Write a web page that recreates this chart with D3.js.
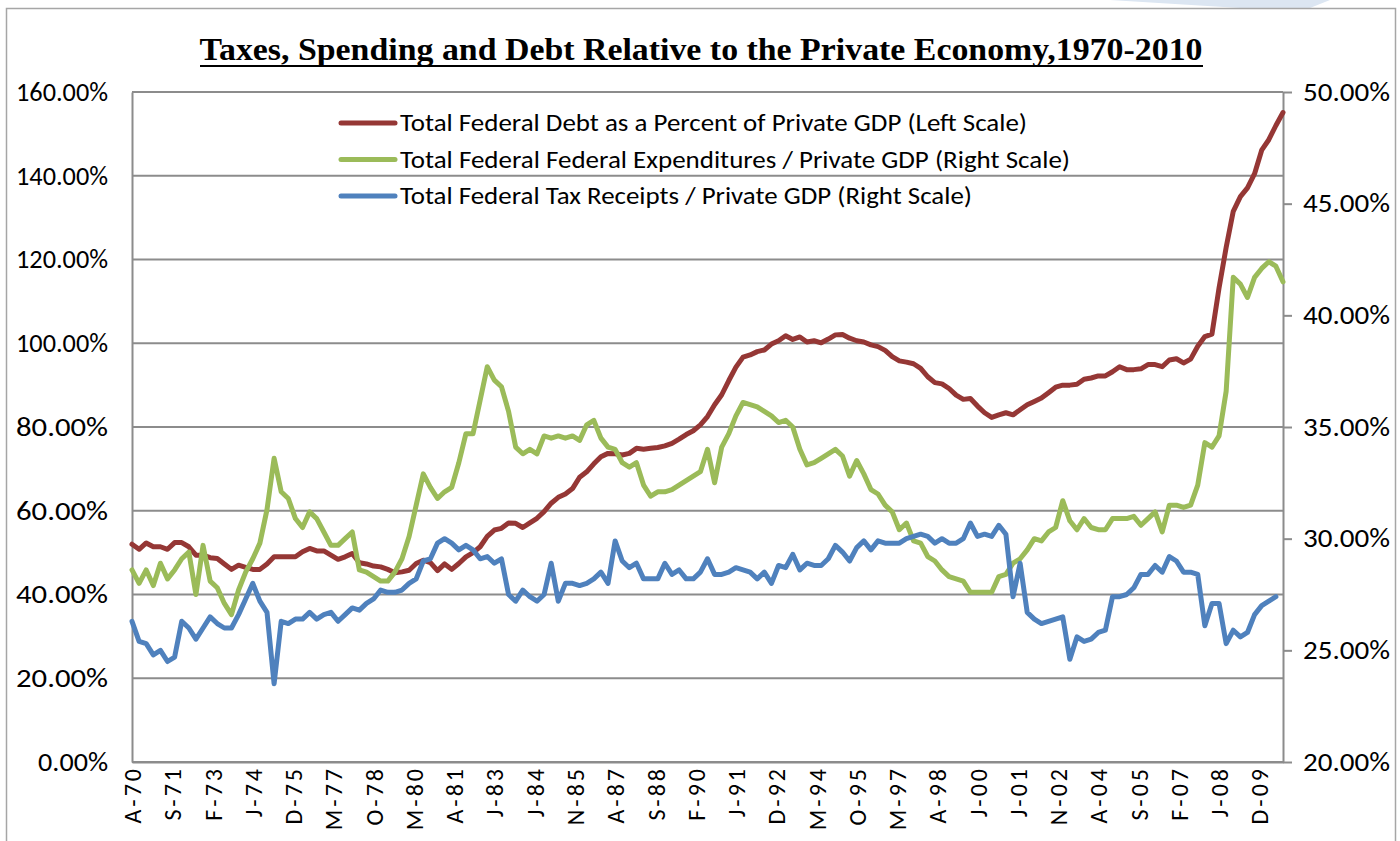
<!DOCTYPE html>
<html>
<head>
<meta charset="utf-8">
<script src="https://cdn.jsdelivr.net/npm/d3@7"></script>
<style>
  html, body { margin: 0; padding: 0; background: #fff; }
  svg { display: block; }
  text { font-family: Carlito, Calibri, Lato, sans-serif; fill: #000; }
</style>
</head>
<body>
<div id="chart"></div>
<script>
// Axis labels (every 17th month starting Apr 1970)
const tickLabels = ['A-70', 'S-71', 'F-73', 'J-74', 'D-75', 'M-77', 'O-78', 'M-80', 'A-81', 'J-83',
	'J-84', 'N-85', 'A-87', 'S-88', 'F-90', 'J-91', 'D-92', 'M-94', 'O-95', 'M-97',
	'A-98', 'J-00', 'J-01', 'N-02', 'A-04', 'S-05', 'F-07', 'J-08', 'D-09'];

// Quarterly values, starting Apr 1970
// Total federal debt as % of private GDP (left scale)
const debtPct = [
	52.0, 50.8, 52.3, 51.4, 51.4, 50.8, 52.4, 52.4, 51.4, 49.4,
	49.4, 48.8, 48.6, 47.3, 46.0, 47.0, 46.5, 46.0, 46.0, 47.3,
	49.0, 49.0, 49.0, 49.0, 50.2, 51.0, 50.4, 50.4, 49.4, 48.4,
	49.0, 49.8, 47.6, 47.3, 46.8, 46.6, 46.0, 45.2, 45.4, 45.8,
	47.4, 48.2, 47.6, 45.7, 47.3, 46.0, 47.4, 49.0, 50.0, 51.4,
	53.9, 55.4, 55.8, 57.1, 57.0, 56.0, 57.1, 58.2, 59.8, 61.8,
	63.2, 64.0, 65.3, 68.0, 69.3, 71.2, 72.9, 73.7, 73.6, 73.3,
	73.7, 74.9, 74.7, 74.9, 75.1, 75.5, 76.1, 77.1, 78.2, 79.1,
	80.5, 82.5, 85.3, 87.7, 91.1, 94.3, 96.7, 97.2, 98.0, 98.4,
	99.8, 100.6, 101.8, 100.9, 101.5, 100.3, 100.6, 100.1, 101.0, 102.0,
	102.1, 101.2, 100.6, 100.3, 99.6, 99.2, 98.3, 96.8, 95.8, 95.5,
	95.1, 94.0, 92.0, 90.6, 90.3, 89.2, 87.6, 86.6, 86.8, 85.0,
	83.4, 82.3, 82.9, 83.4, 82.9, 84.1, 85.3, 86.1, 86.9, 88.2,
	89.5, 90.0, 90.0, 90.2, 91.4, 91.7, 92.2, 92.2, 93.2, 94.4,
	93.7, 93.7, 93.9, 94.9, 94.9, 94.4, 96.0, 96.3, 95.3, 96.2,
	99.3, 101.6, 102.2, 113.2, 122.9, 131.5, 135.0, 137.1, 140.5, 146.1,
	148.6, 152.0, 155.1
];

// Total federal expenditures / private GDP (right scale)
const expendPct = [
	28.6, 28.0, 28.6, 27.9, 28.9, 28.2, 28.6, 29.1, 29.4, 27.5,
	29.7, 28.1, 27.8, 27.1, 26.6, 27.7, 28.5, 29.1, 29.8, 31.3,
	33.6, 32.1, 31.8, 30.9, 30.5, 31.2, 30.9, 30.3, 29.7, 29.7,
	30.0, 30.3, 28.6, 28.5, 28.3, 28.1, 28.1, 28.5, 29.1, 30.1,
	31.5, 32.9, 32.3, 31.8, 32.1, 32.3, 33.4, 34.7, 34.7, 36.2,
	37.7, 37.1, 36.8, 35.7, 34.1, 33.8, 34.0, 33.8, 34.6, 34.5,
	34.6, 34.5, 34.6, 34.4, 35.1, 35.3, 34.5, 34.1, 34.0, 33.4,
	33.2, 33.4, 32.4, 31.9, 32.1, 32.1, 32.2, 32.4, 32.6, 32.8,
	33.0, 34.0, 32.5, 34.1, 34.7, 35.5, 36.1, 36.0, 35.9, 35.7,
	35.5, 35.2, 35.3, 35.0, 34.0, 33.3, 33.4, 33.6, 33.8, 34.0,
	33.7, 32.8, 33.5, 32.9, 32.2, 32.0, 31.5, 31.2, 30.4, 30.7,
	29.9, 29.8, 29.2, 29.0, 28.6, 28.3, 28.2, 28.1, 27.6, 27.6,
	27.6, 27.6, 28.3, 28.4, 28.9, 29.1, 29.5, 30.0, 29.9, 30.3,
	30.5, 31.7, 30.8, 30.4, 30.9, 30.5, 30.4, 30.4, 30.9, 30.9,
	30.9, 31.0, 30.6, 30.9, 31.2, 30.3, 31.5, 31.5, 31.4, 31.5,
	32.4, 34.3, 34.1, 34.6, 36.6, 41.7, 41.4, 40.8, 41.7, 42.1,
	42.4, 42.2, 41.5
];

// Total federal tax receipts / private GDP (right scale)
const taxPct = [
	26.3, 25.4, 25.3, 24.8, 25.0, 24.5, 24.7, 26.3, 26.0, 25.5,
	26.0, 26.5, 26.2, 26.0, 26.0, 26.6, 27.3, 28.0, 27.2, 26.7,
	23.5, 26.3, 26.2, 26.4, 26.4, 26.7, 26.4, 26.6, 26.7, 26.3,
	26.6, 26.9, 26.8, 27.1, 27.3, 27.7, 27.6, 27.6, 27.7, 28.0,
	28.2, 29.0, 29.1, 29.8, 30.0, 29.8, 29.5, 29.7, 29.5, 29.1,
	29.2, 28.9, 29.1, 27.5, 27.2, 27.7, 27.4, 27.2, 27.5, 28.9,
	27.2, 28.0, 28.0, 27.9, 28.0, 28.2, 28.5, 28.0, 29.9, 29.0,
	28.7, 28.9, 28.2, 28.2, 28.2, 28.9, 28.4, 28.6, 28.2, 28.2,
	28.5, 29.1, 28.4, 28.4, 28.5, 28.7, 28.6, 28.5, 28.2, 28.5,
	28.0, 28.8, 28.7, 29.3, 28.6, 28.9, 28.8, 28.8, 29.1, 29.7,
	29.4, 29.0, 29.6, 29.9, 29.5, 29.9, 29.8, 29.8, 29.8, 30.0,
	30.1, 30.2, 30.1, 29.8, 30.0, 29.8, 29.8, 30.0, 30.7, 30.1,
	30.2, 30.1, 30.6, 30.2, 27.4, 28.9, 26.7, 26.4, 26.2, 26.3,
	26.4, 26.5, 24.6, 25.6, 25.4, 25.5, 25.8, 25.9, 27.4, 27.4,
	27.5, 27.8, 28.4, 28.4, 28.8, 28.5, 29.2, 29.0, 28.5, 28.5,
	28.4, 26.1, 27.1, 27.1, 25.3, 25.9, 25.6, 25.8, 26.6, 27.0,
	27.2, 27.4
];

const leftTicks = [0, 20, 40, 60, 80, 100, 120, 140, 160];
const rightTicks = [20, 25, 30, 35, 40, 45, 50];

const TITLE = 'Taxes, Spending and Debt Relative to the Private Economy,1970-2010';
const legendItems = [
	{ label: 'Total Federal Debt as a Percent of Private GDP (Left Scale)', color: '#953735', width: 627 },
	{ label: 'Total Federal Federal Expenditures / Private GDP (Right Scale)', color: '#9bbb59', width: 670 },
	{ label: 'Total Federal Tax Receipts / Private GDP (Right Scale)', color: '#4f81bd', width: 572 }
];

const WIDTH = 1400;
const HEIGHT = 841;
const plot = { left: 132, right: 1283, top: 92, bottom: 762 };
const MONTHS_SHOWN = 486;
const GRID = '#8c8c8c';
const LABEL_FONT = 'Carlito, Calibri, Lato, sans-serif';

const svg = d3.select('#chart')
	.append('svg')
	.attr('width', WIDTH)
	.attr('height', HEIGHT);

svg.append('rect').attr('width', WIDTH).attr('height', HEIGHT).attr('fill', '#fff');

// pale slide background peeking above the chart frame
svg.append('path')
	.attr('d', 'M1110,0 L1330,0 L1310,8 L1240,8 Z')
	.attr('fill', '#dce6f2');

// chart frame
svg.append('rect')
	.attr('x', 6.5).attr('y', 8.5)
	.attr('width', 1389).attr('height', 850)
	.attr('fill', 'none')
	.attr('stroke', '#a6a6a6')
	.attr('stroke-width', 1.5);

// Scales
const x = d3.scaleLinear().domain([0, MONTHS_SHOWN]).range([plot.left, plot.right]);
const yLeft = d3.scaleLinear().domain([0, 160]).range([plot.bottom, plot.top]);
const yRight = d3.scaleLinear().domain([20, 50]).range([plot.bottom, plot.top]);

// Gridlines
svg.append('g')
	.selectAll('line')
	.data(leftTicks)
	.enter()
	.append('line')
	.attr('x1', plot.left)
	.attr('x2', plot.right)
	.attr('y1', d => yLeft(d))
	.attr('y2', d => yLeft(d))
	.attr('stroke', GRID)
	.attr('stroke-width', 2);

// Left axis
const leftAxis = svg.append('g')
	.attr('transform', 'translate(' + plot.left + ',0)')
	.call(d3.axisLeft(yLeft).tickValues(leftTicks).tickSize(0).tickPadding(24)
		.tickFormat(d => d.toFixed(2) + '%'));
leftAxis.select('.domain').attr('stroke', GRID).attr('stroke-width', 2);
leftAxis.selectAll('text')
	.attr('textLength', 92)
	.attr('lengthAdjust', 'spacingAndGlyphs')
	.style('font-size', '26px')
	.style('font-family', LABEL_FONT);
// "0.00%" is one digit shorter
leftAxis.selectAll('text').filter(d => d === 0).attr('textLength', 70);

// Right axis
const rightAxis = svg.append('g')
	.attr('transform', 'translate(' + plot.right + ',0)')
	.call(d3.axisRight(yRight).tickValues(rightTicks).tickSize(9).tickSizeOuter(0).tickPadding(11)
		.tickFormat(d => d.toFixed(2) + '%'));
rightAxis.select('.domain').attr('stroke', GRID).attr('stroke-width', 2);
rightAxis.selectAll('line').attr('stroke', GRID).attr('stroke-width', 2);
rightAxis.selectAll('text')
	.attr('textLength', 87)
	.attr('lengthAdjust', 'spacingAndGlyphs')
	.style('font-size', '26px')
	.style('font-family', LABEL_FONT);

// Bottom axis
const bottomAxis = svg.append('g')
	.attr('transform', 'translate(0,' + plot.bottom + ')')
	.call(d3.axisBottom(x).tickValues(tickLabels.map((d, i) => i * 17)).tickSize(0)
		.tickFormat((d, i) => tickLabels[i]));
bottomAxis.select('.domain').attr('stroke', GRID).attr('stroke-width', 2);
bottomAxis.selectAll('text')
	.attr('transform', 'rotate(-90)')
	.attr('x', -4)
	.attr('y', 0)
	.attr('dy', '0.36em')
	.style('letter-spacing', '3px')
	.style('text-anchor', 'end')
	.style('font-size', '24px')
	.style('font-family', LABEL_FONT);

// Series lines
function drawSeries(values, scale, color) {
	const line = d3.line()
		.x((d, i) => x(i * 3))
		.y(d => scale(d));
	svg.append('path')
		.datum(values)
		.attr('d', line)
		.attr('fill', 'none')
		.attr('stroke', color)
		.attr('stroke-width', 5)
		.attr('stroke-linejoin', 'round')
		.attr('stroke-linecap', 'round');
}

drawSeries(debtPct, yLeft, legendItems[0].color);
drawSeries(expendPct, yRight, legendItems[1].color);
drawSeries(taxPct, yRight, legendItems[2].color);

// Title
svg.append('text')
	.attr('x', 701)
	.attr('y', 60)
	.attr('text-anchor', 'middle')
	.attr('textLength', 1003)
	.attr('lengthAdjust', 'spacingAndGlyphs')
	.style('font-family', '"Liberation Serif", "DejaVu Serif", serif')
	.style('font-weight', 'bold')
	.style('font-size', '32px')
	.text(TITLE);
svg.append('line')
	.attr('x1', 200).attr('x2', 1203)
	.attr('y1', 66).attr('y2', 66)
	.attr('stroke', '#000')
	.attr('stroke-width', 2);

// Legend
const legend = svg.append('g').attr('transform', 'translate(338,123)');
legendItems.forEach((item, i) => {
	const row = legend.append('g').attr('transform', 'translate(0,' + (i * 36.5) + ')');
	row.append('line')
		.attr('x1', 3).attr('x2', 57)
		.attr('y1', 0).attr('y2', 0)
		.attr('stroke', item.color)
		.attr('stroke-width', 5)
		.attr('stroke-linecap', 'round');
	row.append('text')
		.attr('x', 62)
		.attr('y', 8)
		.attr('textLength', item.width)
		.attr('lengthAdjust', 'spacingAndGlyphs')
		.style('font-size', '24px')
		.text(item.label);
});
</script>
</body>
</html>
